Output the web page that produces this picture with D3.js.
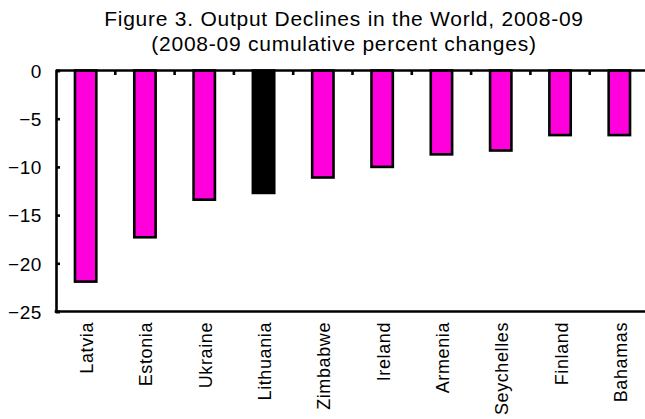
<!DOCTYPE html>
<html><head><meta charset="utf-8">
<script src="https://cdn.jsdelivr.net/npm/d3@7"></script>
<style>body{margin:0;background:#fff;overflow:hidden}text{font-family:Arial,"Liberation Sans",sans-serif}</style>
</head><body><svg id="c" width="645" height="419"></svg>
<script>
const categories = ["Latvia","Estonia","Ukraine","Lithuania","Zimbabwe","Ireland","Armenia","Seychelles","Finland","Bahamas"];
const values = [-21.9,-17.3,-13.4,-12.7,-11.1,-10.0,-8.7,-8.3,-6.7,-6.7];
const highlight = ["Lithuania"];
const yTicks = [0,-5,-10,-15,-20,-25];
const titleLines = ["Figure 3. Output Declines in the World, 2008-09","(2008-09  cumulative percent changes)"];

const svg = d3.select("#c");
const L = 56, R = 649, T = 70.5, B = 311.5;
const x = d3.scaleBand().domain(categories).range([L, R]).paddingInner(0.64).paddingOuter(0.32);
const xb = d3.scaleBand().domain(categories).range([L, R]);
const y = d3.scaleLinear().domain([-25, 0]).range([B, T]);

svg.selectAll("text.title").data(titleLines).enter().append("text")
  .attr("x", 344).attr("y", (d,i)=>26+i*25).attr("text-anchor","middle")
  .attr("font-size", 21).attr("letter-spacing", "0.75px").attr("fill","#000").text(d=>d);

svg.selectAll("rect.bar").data(values).enter().append("rect")
  .attr("x",(d,i)=>x(categories[i])).attr("width",x.bandwidth())
  .attr("y",y(0)).attr("height",d=>y(d)-y(0))
  .attr("fill",(d,i)=>highlight.includes(categories[i])?"#000":"#FF00DD")
  .attr("stroke","#000").attr("stroke-width",2.6);

// y axis
const ya = svg.append("g").attr("transform",`translate(${L},0)`)
  .call(d3.axisRight(y).tickValues(yTicks).tickSize(4).tickFormat(d3.format("d")));
ya.select(".domain").attr("stroke","#000").attr("stroke-width",2.6);
ya.selectAll(".tick line").attr("stroke","#000").attr("stroke-width",2.6);
ya.selectAll(".tick text").attr("x",-14).attr("text-anchor","end").attr("font-size",19)
  .attr("letter-spacing","0.6px").attr("fill","#000").attr("dy","0.36em");

// zero line with ticks between categories
svg.append("line").attr("x1",L).attr("x2",R).attr("y1",y(0)).attr("y2",y(0)).attr("stroke","#000").attr("stroke-width",2.6);
svg.selectAll("line.sep").data(categories.slice(1)).enter().append("line")
  .attr("x1",d=>xb(d)).attr("x2",d=>xb(d)).attr("y1",y(0)).attr("y2",y(0)+4.5)
  .attr("stroke","#000").attr("stroke-width",2.6);
// bottom line
svg.append("line").attr("x1",L-1.3).attr("x2",R).attr("y1",y(-25)).attr("y2",y(-25)).attr("stroke","#000").attr("stroke-width",2.6);

// category labels
svg.selectAll("text.cat").data(categories).enter().append("text")
  .attr("transform",d=>`translate(${xb(d)+xb.bandwidth()/2+7.5},322) rotate(-90)`)
  .attr("text-anchor","end").attr("font-size",18).attr("letter-spacing","0.6px").attr("fill","#000").text(d=>d);
</script></body></html>
